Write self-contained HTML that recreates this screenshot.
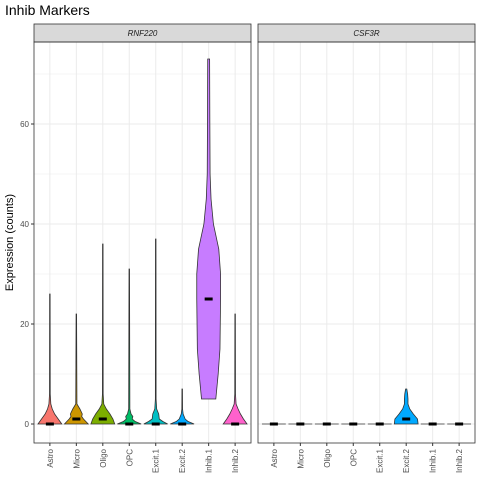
<!DOCTYPE html>
<html><head><meta charset="utf-8">
<style>
body{margin:0;background:#fff;}
svg{display:block;font-family:"Liberation Sans",sans-serif;}
</style></head>
<body>
<svg id="c" width="480" height="480"></svg>
<script>
const categories=["Astro","Micro","Oligo","OPC","Excit.1","Excit.2","Inhib.1","Inhib.2"];
const genes=["RNF220","CSF3R"];
const fills=["#F8766D","#CD9600","#7CAE00","#00BE67","#00BFC4","#00A9FF","#C77CFF","#FF61CC"];
const yTicks=[0,20,40,60];
// medians per gene per category
const medRNF=[0,1,1,0,0,0,25,0];
const medCSF=[0,0,0,0,0,1,0,0];
// density profiles: [value, relative density]
const profRNF=[
 [[0,1],[1,0.7],[2,0.4],[3,0.2],[4,0.08],[6,0.03],[26,0.02]],
 [[0,1],[0.5,0.8],[1,0.6],[1.5,0.45],[2,0.5],[3,0.3],[4,0.05],[22,0.02]],
 [[0,1],[1,0.85],[2,0.6],[3,0.3],[4,0.08],[6,0.03],[36,0.02]],
 [[0,1],[0.5,0.5],[1,0.25],[1.5,0.3],[2,0.15],[3,0.05],[31,0.02]],
 [[0,1],[0.5,0.6],[1,0.3],[2,0.25],[3,0.08],[5,0.03],[37,0.02]],
 [[0,1],[0.5,0.5],[1,0.25],[2,0.08],[3,0.03],[7,0.02]],
 [[5,0.6],[10,0.8],[15,0.95],[25,1],[30,1],[35,0.85],[40,0.4],[45,0.2],[50,0.12],[60,0.1],[73,0.08]],
 [[0,1],[1,0.7],[2,0.45],[3,0.25],[4,0.08],[6,0.03],[22,0.02]]
];
const profCSF=[
 [[0,1]],[[0,1]],[[0,1]],[[0,1]],[[0,1]],
 [[0,1],[1,0.95],[2,0.6],[3,0.3],[4,0.15],[5,0.15],[6,0.12],[7,0.05]],
 [[0,1]],[[0,1]]
];
const NS="http://www.w3.org/2000/svg";
const svgEl=document.getElementById('c');
function mk(t,a,p){const e=document.createElementNS(NS,t);for(const k in a)e.setAttribute(k,a[k]);(p||svgEl).appendChild(e);return e;}
const plotTop=42,plotBot=443;
function yS(v){return 424-v*5;}
const panels=[{x0:34,x1:251,gene:genes[0],med:medRNF,prof:profRNF},{x0:258,x1:475,gene:genes[1],med:medCSF,prof:profCSF}];
let t=mk('text',{x:5,y:15,'font-size':14,fill:'#000'});t.textContent="Inhib Markers";


t=mk('text',{x:0,y:0,'font-size':11,fill:'#000','text-anchor':'middle',transform:'translate(13,'+((plotTop+plotBot)/2)+') rotate(-90)'});
t.textContent="Expression (counts)";


panels.forEach((p,pi)=>{
 const g=mk('g',{});
 
 
 const step=(p.x1-p.x0)/8.2;
 const xc=i=>p.x0+step*(0.6+i);
 for(let v=0;v<=70;v+=10){const yy=yS(v);if(yy<plotTop)continue;
  mk('line',{x1:p.x0,x2:p.x1,y1:yy,y2:yy,stroke:'#ebebeb','stroke-width':v%20==0?1:0.5},g);}
 categories.forEach((c,i)=>mk('line',{x1:xc(i),x2:xc(i),y1:plotTop,y2:plotBot,stroke:'#ebebeb','stroke-width':1},g));
 const s=mk('rect',{x:p.x0,y:24,width:p.x1-p.x0,height:18,fill:'#d9d9d9',stroke:'#333','stroke-width':0.8},g);
 
 
 t=mk('text',{x:(p.x0+p.x1)/2,y:36,'font-size':8,'font-style':'italic',fill:'#1a1a1a','text-anchor':'middle'},g);t.textContent=p.gene;
 const hw=step*0.45;
 categories.forEach((c,i)=>{
  const pr=p.prof[i],cx=xc(i);
  let d;
  if(pr.length==1){d='M'+(cx-hw)+','+yS(pr[0][0])+'L'+(cx+hw)+','+yS(pr[0][0]);}
  else{
   const L=pr.map(q=>[cx-q[1]*hw,yS(q[0])]),R=pr.map(q=>[cx+q[1]*hw,yS(q[0])]).reverse();
   d='M'+L.map(q=>q.join(',')).join('L')+'L'+R.map(q=>q.join(',')).join('L')+'Z';
  }
  const v=mk('path',{d:d,fill:fills[i],stroke:'#333','stroke-width':0.8},g);
  
  
  const m=mk('rect',{x:cx-4,y:yS(p.med[i])-1.5,width:8,height:3,fill:'#000'},g);
  
  
  t=mk('text',{x:0,y:0,'font-size':8,fill:'#4d4d4d','text-anchor':'end',transform:'translate('+(cx+3)+','+(plotBot+6)+') rotate(-90)'},g);
  t.textContent=c;
  mk('line',{x1:cx,x2:cx,y1:plotBot,y2:plotBot+3,stroke:'#333'},g);
 });
 mk('rect',{x:p.x0,y:plotTop,width:p.x1-p.x0,height:plotBot-plotTop,fill:'none',stroke:'#333','stroke-width':0.8},g);
 if(pi==0){yTicks.forEach(v=>{
  t=mk('text',{x:p.x0-5,y:yS(v)+3,'font-size':8,fill:'#4d4d4d','text-anchor':'end'},g);t.textContent=v;
  mk('line',{x1:p.x0-3,x2:p.x0,y1:yS(v),y2:yS(v),stroke:'#333'},g);
 });}
});
</script>
</body></html>
